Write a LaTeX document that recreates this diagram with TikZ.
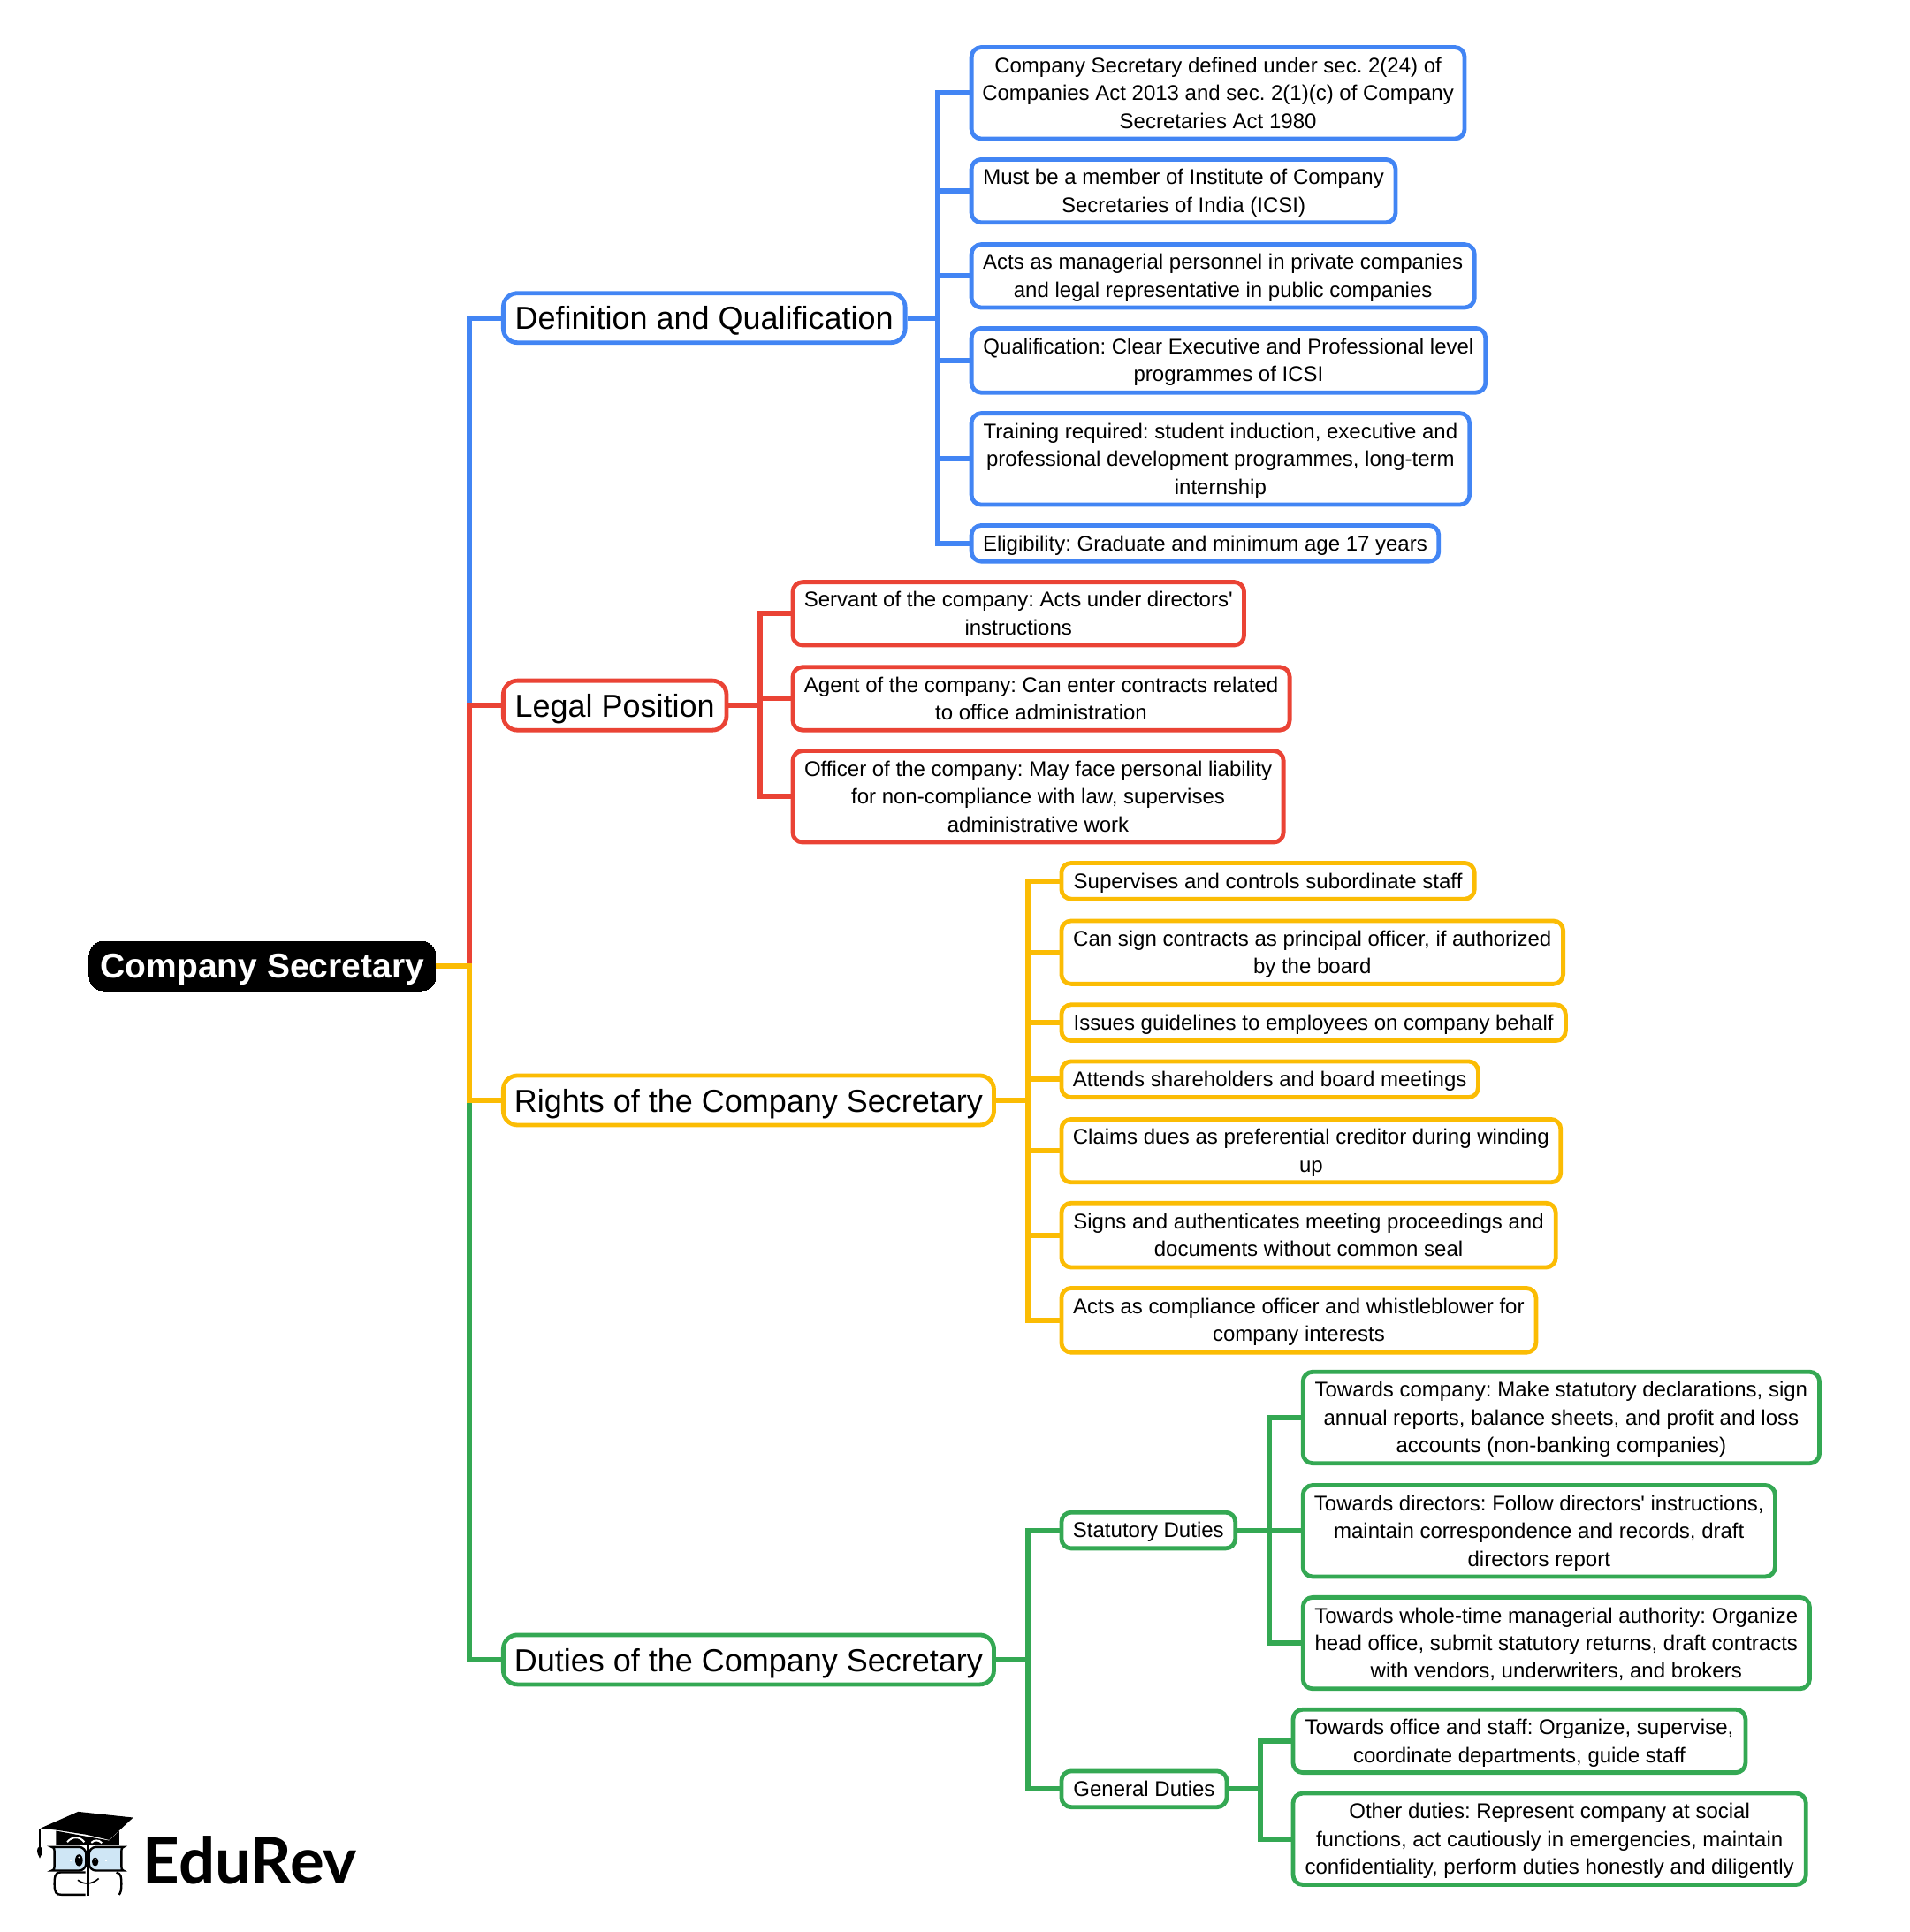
\documentclass[tikz,border=0pt]{standalone}
\usepackage{fontspec}
\setmainfont[Ligatures=TeXOff]{Liberation Sans}
\newfontfamily\logofont{Lato}
\frenchspacing
\definecolor{cblue}{HTML}{4285F4}
\definecolor{cred}{HTML}{EA4335}
\definecolor{cyellow}{HTML}{FBBC04}
\definecolor{cgreen}{HTML}{34A853}
\definecolor{glass}{HTML}{CFE6F5}
\tikzset{
  basebox/.style={rectangle,inner sep=0pt,line width=2.4pt,fill=white,text=black},
  leafbox/.style={basebox,draw=#1,rounded corners=5.5pt,font=\fontsize{12}{15.7}\selectfont},
  branchbox/.style={basebox,draw=#1,rounded corners=8pt,font=\fontsize{18}{28}\selectfont},
  rootbox/.style={rectangle,inner sep=0pt,fill=black,draw=black,line width=0pt,rounded corners=8pt,text=white,font=\fontsize{19.5}{28}\selectfont\bfseries},
  link/.style={draw=#1,line width=3pt,line join=miter},
}
\newcommand{\bx}[7]{\node[#6,minimum width={(#4-#2-0.8)*0.6971pt},minimum height={(#5-#3-0.8)*0.6971pt}] (#1) at ({(#2+#4)/2},{(#3+#5)/2}) {\raisebox{-1.05pt}[\height][\depth]{\begin{tabular}{@{}c@{}}#7\end{tabular}}};}
\begin{document}
\begin{tikzpicture}[x=0.6971pt,y=-0.6971pt]
\useasboundingbox (0,0) rectangle (1550,1568);
% bus coordinates
\coordinate (busmain) at (381,0);
\coordinate (busdef) at (761,0);
\coordinate (buslegal) at (617,0);
\coordinate (busrights) at (834,0);
\coordinate (busduties) at (834,0);
\coordinate (busstat) at (1030,0);
\coordinate (busgen) at (1023,0);
% nodes
\bx{root}{72}{764}{354}{804}{rootbox}{Company Secretary}
\bx{def}{408}{238}{735}{278}{branchbox=cblue}{Definition and Qualification}
\bx{legal}{408}{552}{590}{593}{branchbox=cred}{Legal Position}
\bx{rights}{408}{873}{807}{913}{branchbox=cyellow}{Rights of the Company Secretary}
\bx{duties}{408}{1327}{807}{1367}{branchbox=cgreen}{Duties of the Company Secretary}
% blue
\bx{da}{788}{38}{1189}{113}{leafbox=cblue}{Company Secretary defined under sec. 2(24) of\\Companies Act 2013 and sec. 2(1)(c) of Company\\Secretaries Act 1980}
\bx{db}{788}{129}{1133}{181}{leafbox=cblue}{Must be a member of Institute of Company\\Secretaries of India (ICSI)}
\bx{dc}{788}{198}{1197}{250}{leafbox=cblue}{Acts as managerial personnel in private companies\\and legal representative in public companies}
\bx{dd}{788}{266}{1206}{319}{leafbox=cblue}{Qualification: Clear Executive and Professional level\\programmes of ICSI}
\bx{de}{788}{335}{1193}{410}{leafbox=cblue}{Training required: student induction, executive and\\professional development programmes, long-term\\internship}
\bx{df}{788}{426}{1168}{456}{leafbox=cblue}{Eligibility: Graduate and minimum age 17 years}
% red
\bx{la}{643}{472}{1010}{524}{leafbox=cred}{Servant of the company: Acts under directors'\\instructions}
\bx{lb}{643}{541}{1047}{593}{leafbox=cred}{Agent of the company: Can enter contracts related\\to office administration}
\bx{lc}{643}{609}{1042}{684}{leafbox=cred}{Officer of the company: May face personal liability\\for non-compliance with law, supervises\\administrative work}
% yellow
\bx{ra}{861}{700}{1197}{730}{leafbox=cyellow}{Supervises and controls subordinate staff}
\bx{rb}{861}{747}{1269}{799}{leafbox=cyellow}{Can sign contracts as principal officer, if authorized\\by the board}
\bx{rc}{861}{815}{1271}{845}{leafbox=cyellow}{Issues guidelines to employees on company behalf}
\bx{rd}{861}{861}{1200}{891}{leafbox=cyellow}{Attends shareholders and board meetings}
\bx{re}{861}{908}{1267}{960}{leafbox=cyellow}{Claims dues as preferential creditor during winding\\up}
\bx{rf}{861}{976}{1263}{1029}{leafbox=cyellow}{Signs and authenticates meeting proceedings and\\documents without common seal}
\bx{rg}{861}{1045}{1247}{1098}{leafbox=cyellow}{Acts as compliance officer and whistleblower for\\company interests}
% green
\bx{stat}{861}{1227}{1003}{1257}{leafbox=cgreen}{Statutory Duties}
\bx{gen}{861}{1437}{996}{1467}{leafbox=cgreen}{General Duties}
\bx{sa}{1057}{1113}{1477}{1188}{leafbox=cgreen}{Towards company: Make statutory declarations, sign\\annual reports, balance sheets, and profit and loss\\accounts (non-banking companies)}
\bx{sb}{1057}{1205}{1441}{1280}{leafbox=cgreen}{Towards directors: Follow directors' instructions,\\maintain correspondence and records, draft\\directors report}
\bx{sc}{1057}{1296}{1469}{1371}{leafbox=cgreen}{Towards whole-time managerial authority: Organize\\head office, submit statutory returns, draft contracts\\with vendors, underwriters, and brokers}
\bx{ga}{1049}{1387}{1417}{1439}{leafbox=cgreen}{Towards office and staff: Organize, supervise,\\coordinate departments, guide staff}
\bx{gb}{1049}{1455}{1466}{1530}{leafbox=cgreen}{Other duties: Represent company at social\\functions, act cautiously in emergencies, maintain\\confidentiality, perform duties honestly and diligently}
% connectors
\draw[link=cgreen] (root.east) -- (root.east -| busmain) |- (duties.west);
\draw[link=cblue] (root.east) -- (root.east -| busmain) |- (def.west);
\draw[link=cred] (root.east) -- (root.east -| busmain) |- (legal.west);
\draw[link=cyellow] (root.east) -- (root.east -| busmain) |- (rights.west);
\foreach \c in {da,db,dc,dd,de,df}
  \draw[link=cblue] (def.east) -- (def.east -| busdef) |- (\c.west);
\foreach \c in {la,lb,lc}
  \draw[link=cred] (legal.east) -- (legal.east -| buslegal) |- (\c.west);
\foreach \c in {ra,rb,rc,rd,re,rf,rg}
  \draw[link=cyellow] (rights.east) -- (rights.east -| busrights) |- (\c.west);
\foreach \c in {stat,gen}
  \draw[link=cgreen] (duties.east) -- (duties.east -| busduties) |- (\c.west);
\foreach \c in {sa,sb,sc}
  \draw[link=cgreen] (stat.east) -- (stat.east -| busstat) |- (\c.west);
\foreach \c in {ga,gb}
  \draw[link=cgreen] (gen.east) -- (gen.east -| busgen) |- (\c.west);
% logo
\begin{scope}[shift={(14.345,1456)},x=0.16667pt,y=-0.16667pt]
  \fill[black] (130,125) -- (130,172) -- (345,172) -- (345,125) -- (310,158) -- cycle;
  \fill[black] (78,116) -- (205,60) -- (392,80) -- (310,156) -- (235,138) -- (130,122) -- cycle;
  \draw[white,line width=1pt] (168,163) .. controls (185,143) and (210,143) .. (226,163);
  \draw[white,line width=1pt] (250,165) .. controls (260,155) and (275,155) .. (286,166);
  \draw[black,line width=0.8pt] (75,116) -- (75,182);
  \fill[black] (75,178) .. controls (62,182) and (64,200) .. (75,218) .. controls (86,200) and (88,182) .. (75,178) -- cycle;
  \draw[black,fill=glass,line width=1.2pt,rounded corners=4pt] (232,180) -- (140,180) .. controls (125,180) and (125,195) .. (125,220) .. controls (125,245) and (125,260) .. (140,260) -- (232,260) -- cycle;
  \draw[black,fill=glass,line width=1.2pt,rounded corners=4pt] (242,180) -- (335,180) .. controls (352,180) and (352,195) .. (352,220) .. controls (352,245) and (352,260) .. (335,260) -- (242,260) -- cycle;
  \draw[black,line width=1.2pt] (230,266) -- (145,266) .. controls (125,266) and (125,285) .. (125,305) .. controls (125,335) and (130,342) .. (150,342) -- (230,342);
  \draw[black,line width=1.2pt] (335,266) .. controls (352,270) and (352,285) .. (352,305) .. controls (352,325) and (350,335) .. (344,342);
  \draw[black,line width=1.2pt] (238,165) -- (238,345);
  \fill[black] (208,225) ellipse [x radius=13,y radius=20];
  \fill[black] (263,230) ellipse [x radius=11,y radius=15];
  \fill[white] (208,215) circle (3);
  \fill[white] (263,222) circle (3);
  \fill[white] (176,221) rectangle (184,229);
  \fill[white] (296,221) rectangle (304,229);
  \draw[black,line width=0.8pt] (204,292) .. controls (225,308) and (250,308) .. (275,287);
  \node[font=\logofont\bfseries\fontsize{36.3}{36.3}\selectfont,inner sep=0pt,anchor=center,text=black] (brand) at (789,226) {EduRev};
\end{scope}
\end{tikzpicture}
\end{document}
